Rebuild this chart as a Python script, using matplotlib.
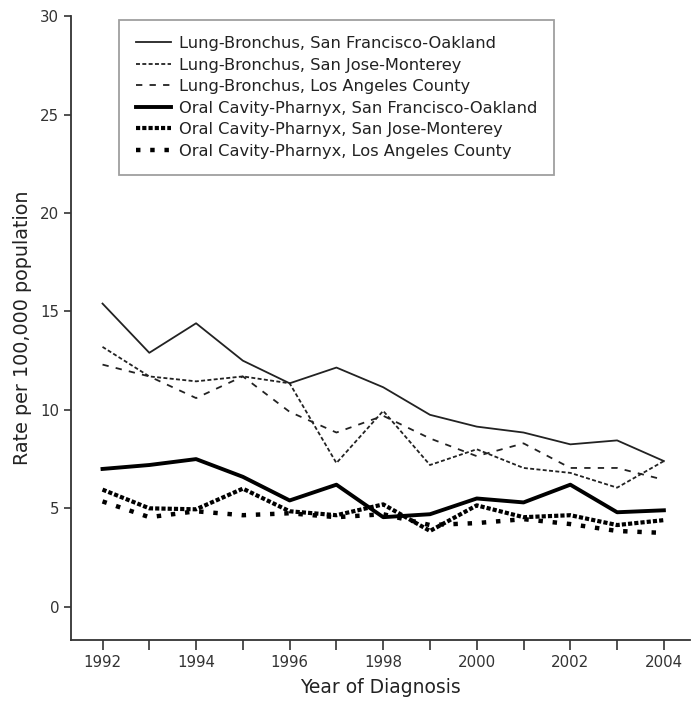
import numpy as np
import matplotlib
matplotlib.use("Agg")
import matplotlib.pyplot as plt

# Data (rate per 100,000 population)
years = list(range(1992, 2005))

lung_sf = [15.4, 12.9, 14.4, 12.5, 11.35, 12.15, 11.15, 9.75, 9.15, 8.85, 8.25, 8.45, 7.4]
lung_sj = [13.2, 11.7, 11.45, 11.7, 11.35, 7.3, 9.95, 7.2, 8.0, 7.05, 6.8, 6.05, 7.4]
lung_la = [12.3, 11.7, 10.6, 11.7, 9.9, 8.85, 9.7, 8.55, 7.65, 8.3, 7.05, 7.05, 6.45]
oral_sf = [7.0, 7.2, 7.5, 6.6, 5.4, 6.2, 4.55, 4.7, 5.5, 5.3, 6.2, 4.8, 4.9]
oral_sj = [5.95, 5.0, 4.95, 6.0, 4.85, 4.65, 5.2, 3.85, 5.15, 4.55, 4.65, 4.15, 4.4]
oral_la = [5.35, 4.55, 4.85, 4.65, 4.75, 4.55, 4.7, 4.15, 4.25, 4.45, 4.2, 3.85, 3.75]

labels = [
    "Lung-Bronchus, San Francisco-Oakland",
    "Lung-Bronchus, San Jose-Monterey",
    "Lung-Bronchus, Los Angeles County",
    "Oral Cavity-Pharnyx, San Francisco-Oakland",
    "Oral Cavity-Pharnyx, San Jose-Monterey",
    "Oral Cavity-Pharnyx, Los Angeles County",
]

fig = plt.figure(figsize=(6.91, 7.02), dpi=100)
ax = fig.add_axes([0.103, 0.088, 0.895, 0.889])

ax.plot(years, lung_sf, color="#222222", lw=1.3, label=labels[0])
ax.plot(years, lung_sj, color="#222222", lw=1.3, dashes=(2.2, 1.3), label=labels[1])
ax.plot(years, lung_la, color="#222222", lw=1.3, dashes=(3.5, 4.0), label=labels[2])
ax.plot(years, oral_sf, color="black", lw=2.8, label=labels[3])
ax.plot(years, oral_sj, color="black", lw=3.0, dashes=(1.0, 0.5), label=labels[4])
ax.plot(years, oral_la, color="black", lw=3.2, dashes=(1.0, 2.2), label=labels[5])

ax.set_xlim(1991.33, 2004.55)
ax.set_ylim(-1.7, 30)

ax.set_xticks(range(1992, 2005, 2))
ax.set_xticks(range(1993, 2004, 2), minor=True)
ax.set_yticks(range(0, 31, 5))
ax.tick_params(axis="both", which="both", direction="out", colors="#333333",
               labelsize=10.8, width=1.2)
ax.tick_params(axis="x", which="both", length=7)
ax.tick_params(axis="y", length=5)

for side in ["top", "right"]:
    ax.spines[side].set_visible(False)
for side in ["left", "bottom"]:
    ax.spines[side].set_color("#333333")
    ax.spines[side].set_linewidth(1.3)

ax.set_xlabel("Year of Diagnosis", fontsize=13.5, color="#222222", labelpad=6)
ax.set_ylabel("Rate per 100,000 population", fontsize=13.8, color="#222222", labelpad=6)

leg = ax.legend(loc="upper left", bbox_to_anchor=(0.078, 0.994), borderaxespad=0,
                fontsize=11.7, handlelength=2.2, handletextpad=0.47, labelspacing=0.4,
                fancybox=False, borderpad=1.0, frameon=True)
leg.get_frame().set_edgecolor("#888888")
leg.get_frame().set_linewidth(1.3)
for t in leg.get_texts():
    t.set_color("#222222")

fig.savefig("out.png", dpi=100)
